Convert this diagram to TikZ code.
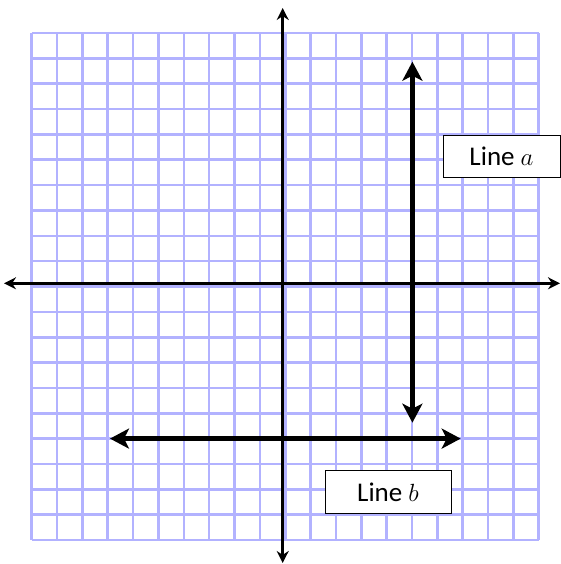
\documentclass[tikz,border=0pt]{standalone}
\usepackage{fontspec}
\setmainfont{Carlito}
\usetikzlibrary{arrows.meta}

\begin{document}
\begin{tikzpicture}[x=1pt,y=-1pt,
		gridline/.style={draw=blue!30, line width=2.6pt},
		axis/.style={draw=black, line width=3.2pt, {Stealth[length=12pt,width=12pt]}-{Stealth[length=12pt,width=12pt]}},
		bigline/.style={draw=black, line width=4.6pt, {Stealth[length=19pt,width=20pt,inset=5pt]}-{Stealth[length=19pt,width=20pt,inset=5pt]}},
		tagbox/.style={draw=black, line width=0.8pt, fill=white, inner sep=0pt, font=\fontsize{27}{31}\selectfont}
		]
		\useasboundingbox (0,0) rectangle (561,564);
		% grid paper, 20 x 20 cells
		\foreach \k in {0,...,20} {
			\draw[gridline] (31.7+25.35*\k,33) -- (31.7+25.35*\k,540);
			\draw[gridline] (31.7,33+25.35*\k) -- (538.7,33+25.35*\k);
		}
		% axes
		\coordinate (ytop) at (282.7,8);
		\coordinate (ybot) at (282.7,563);
		\coordinate (xleft) at (4,283.3);
		\coordinate (xright) at (560,283.3);
		\draw[axis] (ytop) -- (ybot);
		\draw[axis] (xleft) -- (xright);
		% line a and line b
		\coordinate (atop) at (412.4,61.7);
		\coordinate (abot) at (412.4,422.7);
		\coordinate (bleft) at (110,438.6);
		\coordinate (bright) at (460.7,438.6);
		\draw[bigline] (atop) -- (abot);
		\draw[bigline] (bleft) -- (bright);
		\node[tagbox, minimum width=117pt, minimum height=42pt] (taga) at (501.5,156) {Line $a$};
		\node[tagbox, minimum width=126pt, minimum height=43pt] (tagb) at (388,492.3) {Line $b$};
\end{tikzpicture}
\end{document}
